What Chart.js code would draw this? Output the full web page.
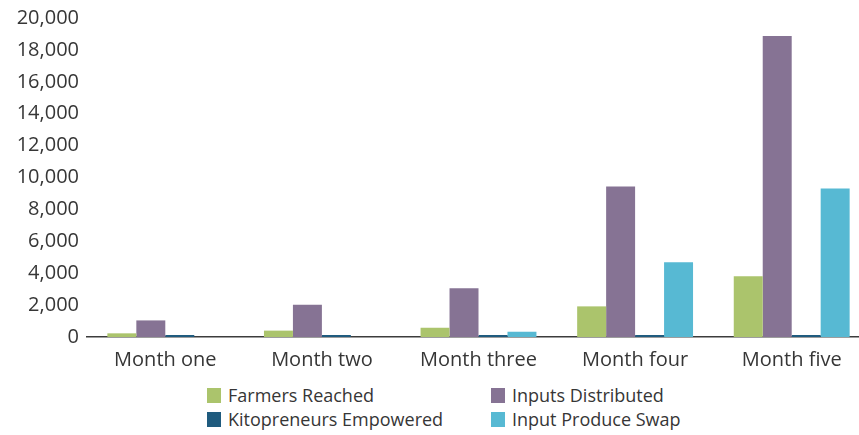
<!DOCTYPE html>
<html lang="en">
<head>
    <meta charset="UTF-8">
    <title>Monthly results</title>
    <script src="https://cdn.jsdelivr.net/npm/chart.js"></script>
    <style>
        html, body {
            margin: 0;
            padding: 0;
            background: #fff;
        }

        .chart-wrap {
            position: relative;
            width: 859px;
            height: 435px;
            overflow: hidden;
        }

        #resultsChart {
            position: absolute;
            left: 0;
            top: 0;
        }

        .legend-item {
            position: absolute;
            height: 15px;
            font-family: 'Open Sans', sans-serif;
            font-size: 18px;
            color: #363636;
            white-space: nowrap;
        }

        .legend-item .box {
            position: absolute;
            left: 0;
            top: 0;
            width: 14px;
            height: 15px;
        }

        .legend-item .label {
            position: absolute;
            left: 21px;
            top: -6px;
            line-height: 26px;
        }
    </style>
</head>
<body>
    <div class="chart-wrap">
        <canvas id="resultsChart" width="870" height="380"></canvas>
        <div id="legend"></div>
    </div>

    <script>
        const months = ['Month one', 'Month two', 'Month three', 'Month four', 'Month five'];

        const farmersReached = [230, 400, 580, 1920, 3810];
        const inputsDistributed = [1040, 2020, 3060, 9440, 18870];
        const kitopreneursEmpowered = [50, 60, 70, 80, 110];
        const inputProduceSwap = [0, 0, 330, 4690, 9310];

        const yTicks = [0, 2000, 4000, 6000, 8000, 10000, 12000, 14000, 16000, 18000, 20000];

        const seriesNames = ['Farmers Reached', 'Inputs Distributed', 'Kitopreneurs Empowered', 'Input Produce Swap'];
        const seriesColors = ['#abc46c', '#867394', '#1f5b7e', '#57b9d3'];

        const textColor = '#363636';
        const fontFamily = "'Open Sans', sans-serif";

        const allSeries = [farmersReached, inputsDistributed, kitopreneursEmpowered, inputProduceSwap];

        const datasets = allSeries.map((values, i) => ({
            label: seriesNames[i],
            data: values,
            backgroundColor: seriesColors[i],
            borderWidth: 0,
            categoryPercentage: 0.74,
            barPercentage: 1.0,
            // tiny Kitopreneurs bars still show as a thin line on the axis
            minBarLength: i === 2 ? 2 : 0
        }));

        const ctx = document.getElementById('resultsChart').getContext('2d');

        new Chart(ctx, {
            type: 'bar',
            data: {
                labels: months,
                datasets: datasets
            },
            options: {
                responsive: false,
                devicePixelRatio: 1,
                animation: false,
                layout: {
                    padding: { top: 18, left: 0, right: 0, bottom: 0 }
                },
                plugins: {
                    legend: { display: false },
                    tooltip: { enabled: false }
                },
                scales: {
                    x: {
                        grid: { display: false },
                        border: { display: true, color: '#3c3c3c', width: 1.5 },
                        ticks: {
                            color: textColor,
                            font: { family: fontFamily, size: 20 },
                            padding: 3,
                            maxRotation: 0,
                            autoSkip: false
                        },
                        afterFit: (scale) => {
                            scale.height = 43;
                        }
                    },
                    y: {
                        min: 0,
                        max: 20000,
                        afterBuildTicks: (scale) => {
                            scale.ticks = yTicks.map(v => ({ value: v }));
                        },
                        grid: { display: false },
                        border: { display: false },
                        ticks: {
                            color: textColor,
                            font: { family: fontFamily, size: 20 },
                            padding: 0,
                            callback: (value) => value.toLocaleString('en-US')
                        },
                        afterFit: (scale) => {
                            scale.width = 87;
                        }
                    }
                }
            }
        });

        // legend laid out in two columns, like the original
        const legendPos = [
            { left: 207, top: 388 },
            { left: 491, top: 388 },
            { left: 207, top: 412 },
            { left: 491, top: 412 }
        ];

        const legendEl = document.getElementById('legend');
        seriesNames.forEach((name, i) => {
            const item = document.createElement('div');
            item.className = 'legend-item';
            item.style.left = legendPos[i].left + 'px';
            item.style.top = legendPos[i].top + 'px';
            item.innerHTML = '<span class="box" style="background:' + seriesColors[i] + '"></span>' +
                '<span class="label">' + name + '</span>';
            legendEl.appendChild(item);
        });
    </script>
</body>
</html>
